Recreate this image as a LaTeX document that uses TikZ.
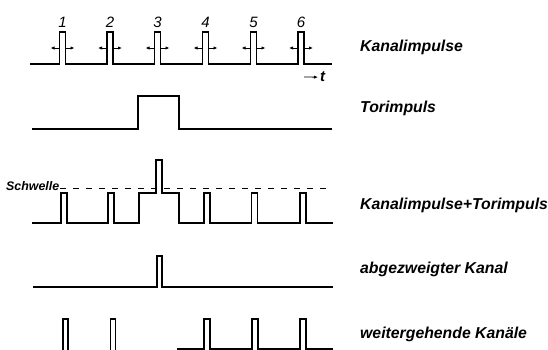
\documentclass[tikz,border=0pt]{standalone}
\usepackage{fontspec}
\setmainfont{Liberation Sans}
\usepackage{tikz}
\usetikzlibrary{arrows.meta}

\begin{document}
\begin{tikzpicture}[
        x=1pt, y=-1pt,
        trace/.style={line width=1.5pt, line join=miter},
        dir/.style={-{Latex[length=4pt, width=3.4pt]}, line width=0.8pt},
        thresh/.style={line width=0.8pt, dash pattern=on 6pt off 7pt},
        lbl/.style={font=\fontsize{15.8}{18}\selectfont\bfseries\itshape, anchor=base west, inner sep=0pt},
        num/.style={font=\fontsize{15}{18}\selectfont\itshape, anchor=base, inner sep=0pt},
      ]
        \useasboundingbox (0,0) rectangle (548,350);
        % Kanalimpulse
        \draw[trace] (30,64) \foreach \c in {62.5,110,157.5,205.5,253.5,301}{
            -- (\c-3,64) -- (\c-3,32) -- (\c+3,32) -- (\c+3,64) } -- (332,64);
        \foreach \c/\k in {62.5/1,110/2,157.5/3,205.5/4,253.5/5,301/6}{
          \node[num] (n\k) at (\c,28) {\k};
          \draw[dir] (\c-3,48) -- (\c-12,48);
          \draw[dir] (\c+3,48) -- (\c+12,48);
        }
        \node[lbl, font=\fontsize{15}{18}\selectfont\bfseries\itshape] (tlbl) at (320,82) {t};
        \draw[dir] (304,77) -- ([xshift=-2pt]tlbl.west);
        \node[lbl] (kanal) at (360,52) {Kanalimpulse};
        % Torimpuls
        \draw[trace] (32,129) -- (138,129) -- (138,96) -- (179,96) -- (179,129) -- (332,129);
        \node[lbl] (tor) at (360,113) {Torimpuls};
        % Summe mit Schwelle
        \node[lbl, font=\fontsize{12.4}{15}\selectfont\bfseries\itshape] (schwelle) at (6,190) {Schwelle};
        \coordinate (schwende) at (330,188);
        \draw[thresh] (schwelle.base east |- 0,188) ++(1,0) -- (schwende);
        \draw[trace] (32,223) \foreach \c in {64,111}{
            -- (\c-3,223) -- (\c-3,193) -- (\c+3,193) -- (\c+3,223) }
            -- (139,223) -- (139,193) -- (156,193) -- (156,160) -- (162,160) -- (162,193)
            -- (179,193) -- (179,223)
            \foreach \c in {207,254.5,303}{
            -- (\c-3,223) -- (\c-3,193) -- (\c+3,193) -- (\c+3,223) } -- (333,223);
        \node[lbl] (summe) at (360,209) {Kanalimpulse+Torimpuls};
        % abgezweigter Kanal
        \draw[trace] (33,287) -- (157,287) -- (157,256) -- (162,256) -- (162,287) -- (333,287);
        \node[lbl] (abzweig) at (360,273) {abgezweigter Kanal};
        % weitergehende Kanaele
        \foreach \c in {65.5,113}{
          \draw[trace] (\c-2.7,351) -- (\c-2.7,319) -- (\c+2.7,319) -- (\c+2.7,351);
        }
        \draw[trace] (177,349) \foreach \c in {207,255,303}{
            -- (\c-3,349) -- (\c-3,319) -- (\c+3,319) -- (\c+3,349) } -- (333,349);
        \node[lbl] (weiter) at (360,338) {weitergehende Kanäle};
      \end{tikzpicture}
\end{document}
